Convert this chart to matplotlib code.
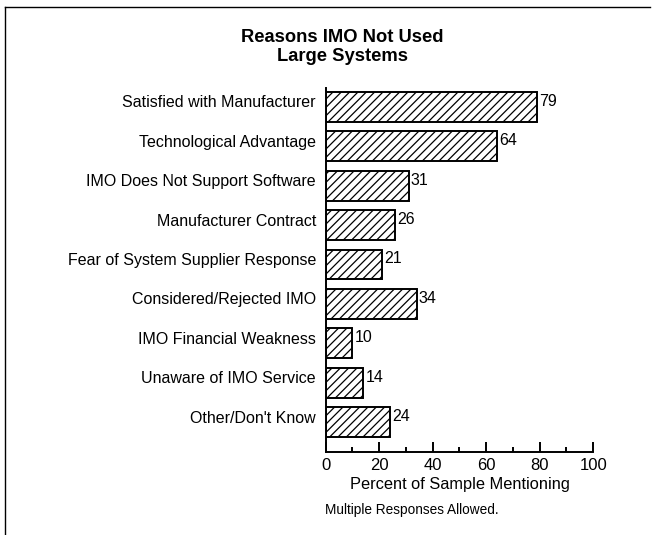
import matplotlib
matplotlib.use("Agg")
import matplotlib.pyplot as plt
from matplotlib.lines import Line2D
from matplotlib.ticker import MultipleLocator
from matplotlib.transforms import ScaledTranslation

plt.rcParams['font.family'] = ['Liberation Sans', 'DejaVu Sans']
plt.rcParams['hatch.linewidth'] = 0.9

reasons = [
    "Satisfied with Manufacturer",
    "Technological Advantage",
    "IMO Does Not Support Software",
    "Manufacturer Contract",
    "Fear of System Supplier Response",
    "Considered/Rejected IMO",
    "IMO Financial Weakness",
    "Unaware of IMO Service",
    "Other/Don't Know",
]
percent = [79, 64, 31, 26, 21, 34, 10, 14, 24]
x_ticks = [0, 20, 40, 60, 80, 100]

fig = plt.figure(figsize=(6.52, 5.35), dpi=100)
ax = fig.add_axes([0.4995, 0.1551, 0.4104, 0.6804])

# labels sit a little above the bar centre
lift = ScaledTranslation(0, 0.055, fig.dpi_scale_trans)

pos = list(range(len(reasons)))
ax.barh(pos, percent, height=0.76, color='white', edgecolor='black',
        linewidth=1.4, hatch='////')

for p, v in zip(pos, percent):
    ax.text(v + 0.8, p, str(v), va='center', ha='left', fontsize=11.5,
            transform=ax.transData + lift)

ax.set_ylim(8.76, -0.48)
ax.set_xlim(0, 100)
ax.set_yticks(pos)
ax.set_yticklabels(reasons, fontsize=11.5)
ax.tick_params(axis='y', length=0, pad=7)
for lab in ax.get_yticklabels():
    lab.set_transform(lab.get_transform() + lift)
ax.set_xticks(x_ticks)
ax.xaxis.set_minor_locator(MultipleLocator(10))
ax.tick_params(axis='x', which='major', direction='in', length=7, width=1.4,
               labelsize=12, pad=4)
ax.tick_params(axis='x', which='minor', direction='in', length=3.5, width=1.4)
ax.set_xlabel("Percent of Sample Mentioning", fontsize=11.8, labelpad=3)

for side in ('top', 'right'):
    ax.spines[side].set_visible(False)
for side in ('left', 'bottom'):
    ax.spines[side].set_linewidth(1.4)

fig.text(0.525, 1 - 38 / 535, "Reasons IMO Not Used", ha='center',
         va='center', fontsize=13.2, fontweight='bold')
fig.text(0.525, 1 - 57 / 535, "Large Systems", ha='center',
         va='center', fontsize=13.2, fontweight='bold')
fig.text(0.4985, 1 - 510 / 535, "Multiple Responses Allowed.", ha='left',
         va='center', fontsize=9.8)

# page frame
fig.add_artist(Line2D([0.007, 0.007], [0.0, 0.987], color='black', lw=1.0,
                      transform=fig.transFigure))
fig.add_artist(Line2D([0.007, 0.997], [0.987, 0.987], color='black', lw=1.0,
                      transform=fig.transFigure))

fig.savefig("out.png", dpi=100)
